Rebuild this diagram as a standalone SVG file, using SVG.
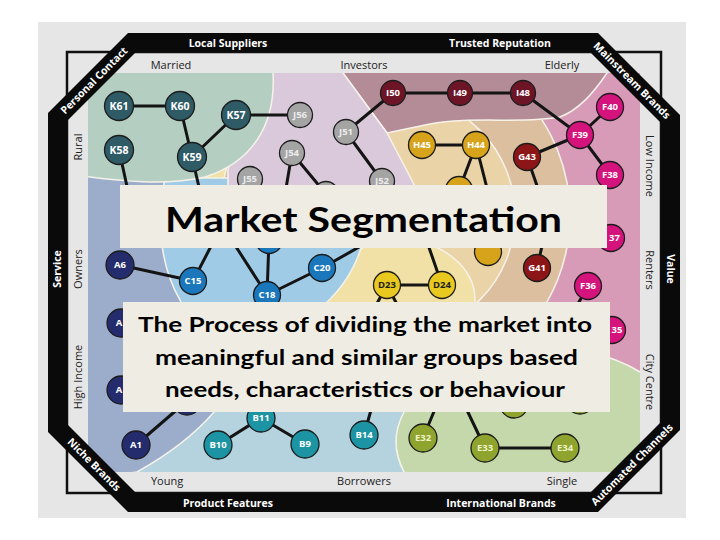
<svg xmlns="http://www.w3.org/2000/svg" width="720" height="540" viewBox="0 0 720 540">
<defs>
<clipPath id="mapclip"><rect x="88" y="73" width="552" height="399"/></clipPath>
<style>
.rg{stroke:#f6f2ea;stroke-width:1.5}
#connectors line{stroke:#141414;stroke-width:3;stroke-linecap:round}
.nd circle{stroke:#1c1c1c;stroke-width:1.3}
.nd text{font-family:"Open Sans","Liberation Sans",sans-serif;font-weight:700;font-size:9.5px;text-anchor:middle;fill:#fff}
.k circle{fill:#2f5b66}
.k text{font-size:10.5px}
.j circle{fill:#a4a4a4}
.j text{fill:#ececec}
.i circle{fill:#6d1527}
.f circle{fill:#d4137d}
.g circle{fill:#8b1517}
.h circle{fill:#d7a31a}
.c circle{fill:#1a77bc}
.a circle{fill:#242c6e}
.b circle{fill:#1d94a4}
.d circle{fill:#e9c91f}
.d text{fill:#222}
.e circle{fill:#8ea42f}
.e text{fill:#eef2c8}
.band{font-family:"Open Sans","Liberation Sans",sans-serif;font-weight:700;font-size:10.5px;fill:#fff;text-anchor:middle}
.axis{font-family:"Open Sans","Liberation Sans",sans-serif;font-size:11px;fill:#222;text-anchor:middle}
.box{fill:#efede3}
.ttl{font-family:Lato,"Open Sans",sans-serif;font-weight:700;fill:#000}
</style>
</defs>
<rect width="720" height="540" fill="#fff"/>
<rect x="38" y="22" width="648" height="496" fill="#e6e6e6"/>
<rect x="67" y="52" width="594" height="441" fill="none" stroke="#111" stroke-width="2.5"/>

<g id="map" clip-path="url(#mapclip)">
<rect x="88" y="73" width="552" height="399" fill="#f1e1a6"/>
<rect class="rg" x="470" y="60" width="190" height="340" fill="#d79bb8"/>
<circle class="rg" cx="395" cy="215" r="175" fill="#dcbf9f"/>
<circle class="rg" cx="395" cy="215" r="120" fill="#ead3a6"/>
<ellipse class="rg" cx="400" cy="300" rx="75" ry="60" fill="#f1e1a6"/>
<path class="rg" fill="#c4d8ac" d="M404,480 L404,472 Q388,442 403,412 L420,380 C480,340 580,335 640,372 L660,385 L660,480 Z"/>
<path class="rg" fill="#b5d3df" d="M95,330 H404 V412 Q388,442 404,472 V480 H95 Z"/>
<path class="rg" fill="#a0cbe6" d="M150,178 H300 L364,238 C357,266 343,290 318,310 V330 H150 Z"/>
<path class="rg" fill="#9cadcc" d="M80,175 L165,178 C157,215 158,262 180,300 C200,340 216,380 214,412 C190,440 162,458 137,472 L80,480 Z"/>
<path class="rg" fill="#b38c98" d="M338.6,67 H611 L607,73 C592,95 578,110 560,117 C525,124 470,116 430,124 C410,128 397,131 387,133 Z"/>
<path class="rg" fill="#d9c9da" d="M250,67 H338.6 L387,133 L418,192 H228 V170 Z"/>
<path class="rg" fill="#b4cfc2" d="M82,67 H273 V73 C276,125 252,162 205,177 C165,186 120,181 82,176 Z"/>
</g>

<path id="frame" fill="#0a0a0a" fill-rule="evenodd" d="M128,33 H598 L680,115 V430 L598,512 H128 L48,432 V113 Z M136,52 H590 L661,123 V422 L590,493 H136 L67,424 V121 Z"/>

<g id="frame-labels">
<text class="band" x="228" y="46.5">Local Suppliers</text>
<text class="band" x="500" y="46.5">Trusted Reputation</text>
<text class="band" x="228" y="506.5">Product Features</text>
<text class="band" x="501" y="506.5">International Brands</text>
<text class="band" transform="translate(57.5,269) rotate(-90)" x="0" y="3.7">Service</text>
<text class="band" transform="translate(671,269) rotate(90)" x="0" y="3.7">Value</text>
<text class="band" transform="translate(94,80.5) rotate(-45)" x="0" y="3.7">Personal Contact</text>
<text class="band" transform="translate(632,80.5) rotate(45)" x="0" y="3.7">Mainstream Brands</text>
<text class="band" transform="translate(94,464.5) rotate(45)" x="0" y="3.7">Niche Brands</text>
<text class="band" transform="translate(632,464.5) rotate(-45)" x="0" y="3.7">Automated Channels</text>
</g>

<g id="axis-labels">
<text class="axis" x="171" y="68.5">Married</text>
<text class="axis" x="364" y="68.5">Investors</text>
<text class="axis" x="562" y="68.5">Elderly</text>
<text class="axis" x="167" y="485">Young</text>
<text class="axis" x="364" y="485">Borrowers</text>
<text class="axis" x="562" y="485">Single</text>
<text class="axis" transform="translate(77.5,147) rotate(-90)" x="0" y="4">Rural</text>
<text class="axis" transform="translate(77.5,269) rotate(-90)" x="0" y="4">Owners</text>
<text class="axis" transform="translate(77.5,377) rotate(-90)" x="0" y="4">High Income</text>
<text class="axis" transform="translate(650,166) rotate(90)" x="0" y="4">Low Income</text>
<text class="axis" transform="translate(650,270) rotate(90)" x="0" y="4">Renters</text>
<text class="axis" transform="translate(650,382) rotate(90)" x="0" y="4">City Centre</text>
</g>

<g id="connectors">
<line x1="119" y1="106" x2="180" y2="106"/>
<line x1="180" y1="106" x2="192" y2="157"/>
<line x1="192" y1="157" x2="236" y2="115"/>
<line x1="236" y1="115" x2="300" y2="115"/>
<line x1="119" y1="150" x2="130" y2="200"/>
<line x1="192" y1="157" x2="202" y2="200"/>
<line x1="292" y1="153" x2="284" y2="200"/>
<line x1="292" y1="153" x2="326" y2="194"/>
<line x1="346" y1="132" x2="393" y2="93"/>
<line x1="346" y1="132" x2="382" y2="181"/>
<line x1="393" y1="93" x2="523" y2="93"/>
<line x1="523" y1="93" x2="580" y2="135"/>
<line x1="580" y1="135" x2="610" y2="107"/>
<line x1="580" y1="135" x2="610" y2="175"/>
<line x1="580" y1="135" x2="527" y2="157"/>
<line x1="527" y1="157" x2="542" y2="200"/>
<line x1="422" y1="145" x2="476" y2="145"/>
<line x1="476" y1="145" x2="459" y2="190"/>
<line x1="476" y1="145" x2="490" y2="200"/>
<line x1="120" y1="265" x2="193" y2="281"/>
<line x1="193" y1="281" x2="222" y2="225"/>
<line x1="267" y1="295" x2="222" y2="225"/>
<line x1="267" y1="295" x2="269" y2="240"/>
<line x1="267" y1="295" x2="322" y2="268"/>
<line x1="322" y1="268" x2="375" y2="238"/>
<line x1="267" y1="295" x2="300" y2="320"/>
<line x1="387" y1="285" x2="442" y2="285"/>
<line x1="442" y1="285" x2="424" y2="233"/>
<line x1="387" y1="285" x2="368" y2="320"/>
<line x1="387" y1="285" x2="405" y2="320"/>
<line x1="537" y1="268" x2="545" y2="233"/>
<line x1="588" y1="286" x2="570" y2="318"/>
<line x1="136" y1="445" x2="187" y2="401"/>
<line x1="218" y1="445" x2="261" y2="418"/>
<line x1="261" y1="418" x2="305" y2="444"/>
<line x1="364" y1="435" x2="378" y2="385"/>
<line x1="423" y1="438" x2="445" y2="385"/>
<line x1="485" y1="448" x2="455" y2="385"/>
<line x1="485" y1="448" x2="565" y2="448"/>
</g>

<g id="K61" class="nd k"><circle cx="119" cy="106" r="14.5"/><text x="119" y="109.7">K61</text></g>
<g id="K60" class="nd k"><circle cx="180" cy="106" r="14.5"/><text x="180" y="109.7">K60</text></g>
<g id="K57" class="nd k"><circle cx="236" cy="115" r="14.5"/><text x="236" y="118.7">K57</text></g>
<g id="K58" class="nd k"><circle cx="119" cy="150" r="14.5"/><text x="119" y="153.7">K58</text></g>
<g id="K59" class="nd k"><circle cx="192" cy="157" r="14.5"/><text x="192" y="160.7">K59</text></g>
<g id="J56" class="nd j"><circle cx="300" cy="115" r="12.5"/><text x="300" y="118.4">J56</text></g>
<g id="J54" class="nd j"><circle cx="292" cy="153" r="12.5"/><text x="292" y="156.4">J54</text></g>
<g id="J55" class="nd j"><circle cx="250" cy="179" r="12.5"/><text x="250" y="182.4">J55</text></g>
<g id="J51" class="nd j"><circle cx="346" cy="132" r="12.5"/><text x="346" y="135.4">J51</text></g>
<g id="J52" class="nd j"><circle cx="382" cy="181" r="12.5"/><text x="382" y="184.4">J52</text></g>
<g id="J53" class="nd j"><circle cx="326" cy="194" r="12.5"/></g>
<g id="I50" class="nd i"><circle cx="393" cy="93" r="12.5"/><text x="393" y="96.4">I50</text></g>
<g id="I49" class="nd i"><circle cx="460" cy="93" r="12.5"/><text x="460" y="96.4">I49</text></g>
<g id="I48" class="nd i"><circle cx="523" cy="93" r="12.5"/><text x="523" y="96.4">I48</text></g>
<g id="F40" class="nd f"><circle cx="610" cy="107" r="13.5"/><text x="610" y="110.4">F40</text></g>
<g id="F39" class="nd f"><circle cx="580" cy="135" r="13.5"/><text x="580" y="138.4">F39</text></g>
<g id="F38" class="nd f"><circle cx="610" cy="175" r="13.5"/><text x="610" y="178.4">F38</text></g>
<g id="F37" class="nd f"><circle cx="611" cy="238" r="13.5"/><text x="614.5" y="241.4">37</text></g>
<g id="F36" class="nd f"><circle cx="588" cy="286" r="13.5"/><text x="588" y="289.4">F36</text></g>
<g id="F35" class="nd f"><circle cx="612" cy="330" r="13.5"/><text x="617" y="333.4">35</text></g>
<g id="G43" class="nd g"><circle cx="527" cy="157" r="13.5"/><text x="527" y="160.4">G43</text></g>
<g id="G41" class="nd g"><circle cx="537" cy="268" r="13.5"/><text x="537" y="271.4">G41</text></g>
<g id="H45" class="nd h"><circle cx="422" cy="145" r="13.5"/><text x="422" y="148.4">H45</text></g>
<g id="H44" class="nd h"><circle cx="476" cy="145" r="13.5"/><text x="476" y="148.4">H44</text></g>
<g id="H-a" class="nd h"><circle cx="459" cy="190" r="13.5"/></g>
<g id="H-b" class="nd h"><circle cx="488" cy="252" r="13.5"/></g>
<g id="C15" class="nd c"><circle cx="193" cy="281" r="13.5"/><text x="193" y="284.4">C15</text></g>
<g id="C18" class="nd c"><circle cx="267" cy="295" r="13.5"/><text x="267" y="298.4">C18</text></g>
<g id="C20" class="nd c"><circle cx="322" cy="268" r="13.5"/><text x="322" y="271.4">C20</text></g>
<g id="C-a" class="nd c"><circle cx="269" cy="240" r="13.5"/></g>
<g id="A6" class="nd a"><circle cx="120" cy="265" r="14"/><text x="120" y="268.4">A6</text></g>
<g id="A-a" class="nd a"><circle cx="121" cy="323" r="14"/><text x="119" y="326.4">A</text></g>
<g id="A-b" class="nd a"><circle cx="121" cy="390" r="14"/><text x="119" y="393.4">A</text></g>
<g id="A-c" class="nd a"><circle cx="187" cy="401" r="14"/></g>
<g id="A1" class="nd a"><circle cx="136" cy="445" r="14"/><text x="136" y="448.4">A1</text></g>
<g id="B10" class="nd b"><circle cx="218" cy="445" r="14"/><text x="218" y="448.4">B10</text></g>
<g id="B11" class="nd b"><circle cx="261" cy="418" r="14"/><text x="261" y="421.4">B11</text></g>
<g id="B9" class="nd b"><circle cx="305" cy="444" r="14"/><text x="305" y="447.4">B9</text></g>
<g id="B14" class="nd b"><circle cx="364" cy="435" r="14"/><text x="364" y="438.4">B14</text></g>
<g id="D23" class="nd d"><circle cx="387" cy="285" r="13.5"/><text x="387" y="288.4">D23</text></g>
<g id="D24" class="nd d"><circle cx="442" cy="285" r="13.5"/><text x="442" y="288.4">D24</text></g>
<g id="E32" class="nd e"><circle cx="423" cy="438" r="14"/><text x="423" y="441.4">E32</text></g>
<g id="E33" class="nd e"><circle cx="485" cy="448" r="14"/><text x="485" y="451.4">E33</text></g>
<g id="E34" class="nd e"><circle cx="565" cy="448" r="14"/><text x="565" y="451.4">E34</text></g>
<g id="E-a" class="nd e"><circle cx="514" cy="404" r="14"/></g>
<g id="E-b" class="nd e"><circle cx="580" cy="400" r="14"/></g>

<g id="title-box">
<rect class="box" x="120" y="185" width="487" height="63"/>
<text class="ttl" x="165" y="232" font-size="34" textLength="397" lengthAdjust="spacingAndGlyphs">Market Segmentation</text>
</g>
<g id="subtitle-box">
<rect class="box" x="123" y="302" width="487" height="110"/>
<text class="ttl" x="138" y="332" font-size="21.5" textLength="454" lengthAdjust="spacingAndGlyphs">The Process of dividing the market into</text>
<text class="ttl" x="155" y="364.5" font-size="21.5" textLength="423" lengthAdjust="spacingAndGlyphs">meaningful and similar groups based</text>
<text class="ttl" x="165" y="396.5" font-size="21.5" textLength="400" lengthAdjust="spacingAndGlyphs">needs, characteristics or behaviour</text>
</g>
</svg>
